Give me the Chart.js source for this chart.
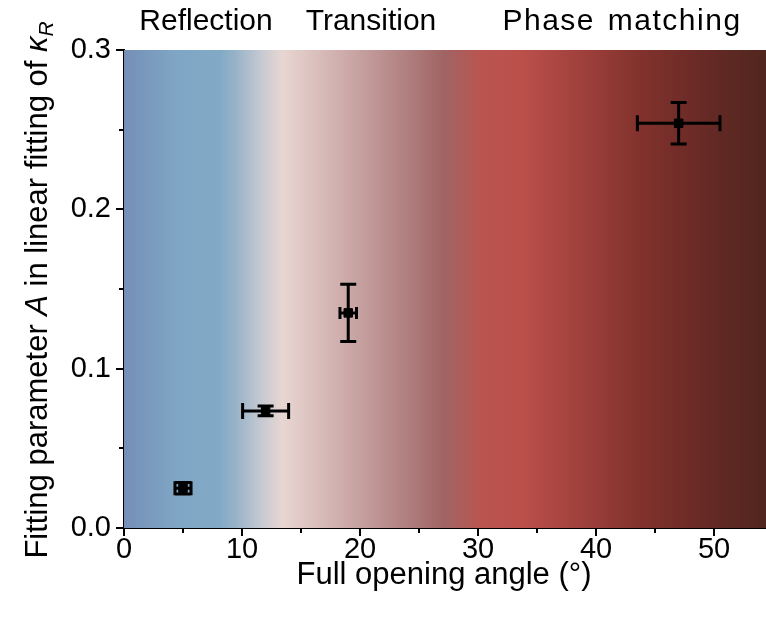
<!DOCTYPE html>
<html>
<head>
<meta charset="utf-8">
<script src="https://cdn.jsdelivr.net/npm/chart.js@4.4.1/dist/chart.umd.min.js"></script>
<style>
  html, body { margin: 0; padding: 0; background: #ffffff; overflow: hidden; }
  #wrap { width: 766px; height: 622px; position: relative; }
  canvas { display: block; }
</style>
</head>
<body>
<div id="wrap"><canvas id="c" width="766" height="622"></canvas></div>
<script>
// ---- data ----
const angle = [5, 12, 19, 47];                 // full opening angle (deg)
const paramA = [0.025, 0.0735, 0.135, 0.254];  // fitting parameter A
const angleErr = [0.68, 1.95, 0.7, 3.5];
const paramAErr = [0.0036, 0.003, 0.018, 0.013];
const xTicks = [0, 10, 20, 30, 40, 50];
const xMinorTicks = [5, 15, 25, 35, 45];
const yTicks = [0.0, 0.1, 0.2, 0.3];
const yMinorTicks = [0.05, 0.15, 0.25];
const regionLabels = ['Reflection', 'Transition', 'Phase matching'];
const xTitle = 'Full opening angle (°)';

// ---- styles ----
const FONT = '"Liberation Sans", Arial, sans-serif';
const X_MAX = 54.4;
const regionLabelPx = [206, 371, 622];
const regionWordSpacing = ['0px', '0px', '3px'];
const regionLetterSpacing = ['0px', '0px', '1.5px'];
const gradientStops = [
  [0.0, 'rgb(118,142,182)'], [2.2, 'rgb(122,155,190)'], [4.3, 'rgb(127,165,196)'],
  [8.1, 'rgb(130,170,198)'], [9.4, 'rgb(150,178,200)'], [11.5, 'rgb(195,200,210)'],
  [13.4, 'rgb(232,214,210)'], [15.8, 'rgb(220,195,192)'], [20.0, 'rgb(198,160,160)'],
  [24.2, 'rgb(175,125,125)'], [27.1, 'rgb(160,100,100)'], [30.2, 'rgb(185,85,80)'],
  [33.6, 'rgb(188,80,75)'], [38.6, 'rgb(160,65,60)'], [43.7, 'rgb(130,50,45)'],
  [48.8, 'rgb(105,42,38)'], [54.4, 'rgb(80,38,30)']
];

const backgroundPlugin = {
  id: 'bg',
  beforeDatasetsDraw(chart) {
    const { ctx, chartArea: a, scales: { x } } = chart;
    const x0 = x.getPixelForValue(0), x1 = x.getPixelForValue(X_MAX);
    const g = ctx.createLinearGradient(x0, 0, x1, 0);
    gradientStops.forEach(([v, c]) => g.addColorStop(Math.min(1, Math.max(0, v / X_MAX)), c));
    ctx.save();
    ctx.fillStyle = g;
    ctx.fillRect(a.left, a.top, a.right - a.left, a.bottom - a.top);
    ctx.restore();
  }
};

const errorBarPlugin = {
  id: 'errbars',
  afterDatasetsDraw(chart) {
    const { ctx, scales: { x, y } } = chart;
    ctx.save();
    ctx.strokeStyle = '#000';
    ctx.lineWidth = 3;
    ctx.lineCap = 'butt';
    const capHs = [7, 8, 6, 8];
    const capVs = [8, 8, 8, 8];
    angle.forEach((ax, i) => {
      const px = x.getPixelForValue(ax), py = y.getPixelForValue(paramA[i]);
      const xl = x.getPixelForValue(ax - angleErr[i]), xr = x.getPixelForValue(ax + angleErr[i]);
      const yt = y.getPixelForValue(paramA[i] + paramAErr[i]), yb = y.getPixelForValue(paramA[i] - paramAErr[i]);
      const capH = capHs[i], capV = capVs[i];
      ctx.beginPath();
      ctx.moveTo(xl, py); ctx.lineTo(xr, py);
      ctx.moveTo(xl, py - capH); ctx.lineTo(xl, py + capH);
      ctx.moveTo(xr, py - capH); ctx.lineTo(xr, py + capH);
      ctx.moveTo(px, yt); ctx.lineTo(px, yb);
      ctx.moveTo(px - capV, yt); ctx.lineTo(px + capV, yt);
      ctx.moveTo(px - capV, yb); ctx.lineTo(px + capV, yb);
      ctx.stroke();
    });
    ctx.restore();
  }
};

const annotPlugin = {
  id: 'annot',
  afterDraw(chart) {
    const { ctx, chartArea: a, scales: { x, y } } = chart;
    ctx.save();
    // minor ticks
    ctx.strokeStyle = '#000';
    ctx.lineWidth = 2;
    ctx.beginPath();
    xMinorTicks.forEach(v => {
      const px = Math.round(x.getPixelForValue(v));
      ctx.moveTo(px, a.bottom); ctx.lineTo(px, a.bottom + 5);
    });
    yMinorTicks.forEach(v => {
      const py = Math.round(y.getPixelForValue(v));
      ctx.moveTo(a.left, py); ctx.lineTo(a.left - 5, py);
    });
    ctx.stroke();
    // region labels
    ctx.fillStyle = '#000';
    ctx.font = '30px ' + FONT;
    ctx.textAlign = 'center';
    ctx.textBaseline = 'alphabetic';
    regionLabels.forEach((t, i) => {
      ctx.letterSpacing = regionLetterSpacing[i];
      ctx.wordSpacing = regionWordSpacing[i];
      ctx.fillText(t, regionLabelPx[i], 30);
    });
    ctx.letterSpacing = '0px';
    ctx.wordSpacing = '0px';
    // x title
    ctx.font = '31px ' + FONT;
    ctx.fillText(xTitle, 444, 584);
    // y title with italic parts
    const parts = [
      ['Fitting parameter ', 'normal', 31, 0],
      ['A', 'italic', 31, 0],
      [' in linear fitting of ', 'normal', 31, 0],
      ['κ', 'italic', 31, 0],
      ['R', 'italic', 21, 6]
    ];
    let total = 0;
    parts.forEach(p => { ctx.font = p[1] + ' ' + p[2] + 'px ' + FONT; p.push(ctx.measureText(p[0]).width); total += p[4]; });
    ctx.translate(47, 290);
    ctx.rotate(-Math.PI / 2);
    ctx.textAlign = 'left';
    let cx = -total / 2;
    parts.forEach(p => {
      ctx.font = p[1] + ' ' + p[2] + 'px ' + FONT;
      ctx.fillText(p[0], cx, p[3]);
      cx += p[4];
    });
    ctx.restore();
  }
};

new Chart(document.getElementById('c'), {
  type: 'scatter',
  data: {
    datasets: [{
      data: angle.map((v, i) => ({ x: v, y: paramA[i] })),
      pointStyle: 'rect',
      pointRadius: 6,
      backgroundColor: '#000',
      borderColor: '#000',
      borderWidth: 1,
      clip: false
    }]
  },
  options: {
    responsive: false,
    animation: false,
    events: [],
    layout: { autoPadding: false, padding: { top: 50, right: 0, left: 0, bottom: 0 } },
    plugins: { legend: { display: false }, tooltip: { enabled: false } },
    scales: {
      x: {
        type: 'linear', min: 0, max: X_MAX,
        afterBuildTicks(s) { s.ticks = xTicks.map(v => ({ value: v })); },
        afterFit(s) { s.height = 94; s.paddingRight = 0; s.paddingLeft = 0; },
        ticks: { color: '#000', font: { family: FONT, size: 29 }, padding: -3, maxRotation: 0,
                 callback: v => String(v) },
        grid: { display: true, drawOnChartArea: false, drawTicks: true, tickLength: 8, color: '#000', lineWidth: 2 },
        border: { display: true, color: '#000', width: 2 }
      },
      y: {
        type: 'linear', min: 0, max: 0.3,
        afterBuildTicks(s) { s.ticks = yTicks.map(v => ({ value: v })); },
        afterFit(s) { s.width = 124; s.paddingTop = 0; s.paddingBottom = 0; },
        ticks: { color: '#000', font: { family: FONT, size: 29 }, padding: 5,
                 callback: v => Number(v).toFixed(1) },
        grid: { display: true, drawOnChartArea: false, drawTicks: true, tickLength: 8, color: '#000', lineWidth: 2 },
        border: { display: true, color: '#000', width: 2 }
      }
    }
  },
  plugins: [backgroundPlugin, errorBarPlugin, annotPlugin]
});
</script>
</body>
</html>
